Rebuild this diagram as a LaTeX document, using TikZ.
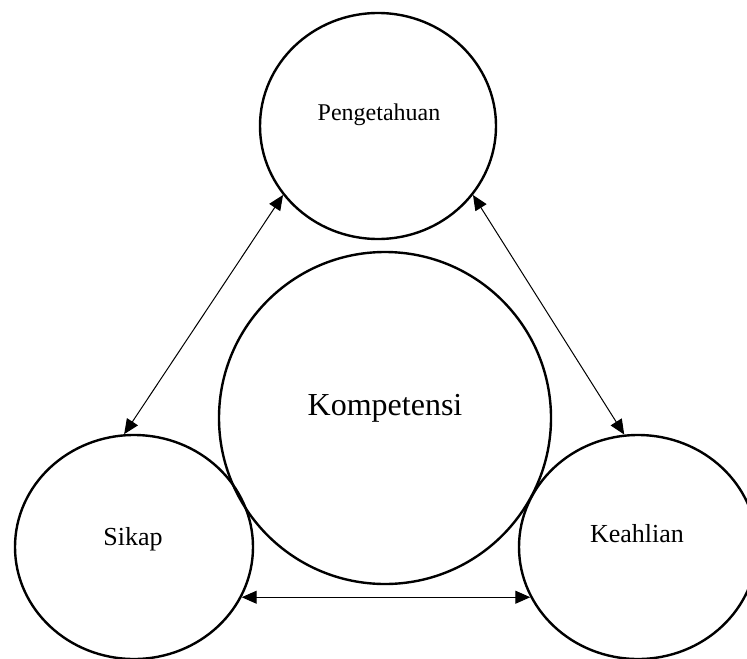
\documentclass[tikz,border=0pt]{standalone}
\usepackage{fontspec}
\setmainfont{Liberation Serif}
\usetikzlibrary{shapes.geometric,arrows.meta}

\begin{document}
\begin{tikzpicture}[x=0.5pt,y=-0.5pt,
        bubble/.style={draw,shape=ellipse,line width=1.2pt,inner sep=0pt},
        caption/.style={anchor=base,inner sep=0pt},
        link/.style={draw,line width=0.5pt,
          {Triangle[length=7.5pt,width=6.5pt]}-{Triangle[length=7.5pt,width=6.5pt]}}]
        \useasboundingbox (0,0) rectangle (747,658);
        \clip (0,0) rectangle (747,658);
        \node[bubble,minimum width=118pt,minimum height=113pt] (pen) at (378,126) {};
        \node[bubble,minimum size=166pt] (komp) at (385,418) {};
        \node[bubble,minimum width=119pt,minimum height=112pt] (sikap) at (134,547) {};
        \node[bubble,minimum width=119pt,minimum height=112pt] (keahlian) at (638,547) {};
        % texts
        \node[caption,font=\fontsize{12}{14}\selectfont] (pentxt) at (379,120) {Pengetahuan};
        \node[caption,font=\fontsize{16}{19}\selectfont] (komptxt) at (385,415) {Kompetensi};
        \node[caption,font=\fontsize{13}{15}\selectfont] (sikaptxt) at (133,545) {Sikap};
        \node[caption,font=\fontsize{13}{15}\selectfont] (keahliantxt) at (637,542) {Keahlian};
        % arrows
        \draw[link] (sikap.95) -- (pen.216);
        \draw[link] (pen.324) -- (keahlian.97);
        \draw[link] (sikap.335) -- (keahlian.205);
  \end{tikzpicture}
\end{document}
